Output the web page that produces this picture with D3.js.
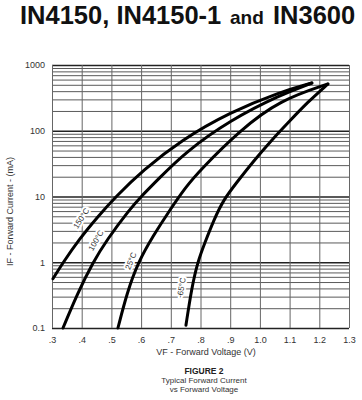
<!DOCTYPE html>
<html>
<head>
<meta charset="utf-8">
<script src="https://cdn.jsdelivr.net/npm/d3@7"></script>
<style>
  body { margin: 0; background: #fff; }
  svg { display: block; font-family: "Liberation Sans", Arial, sans-serif; }
</style>
</head>
<body>
<div id="chart"></div>
<script>
// Forward voltage (V) vs forward current (mA)
const curve150 = [[0.303, 0.56], [0.338, 1], [0.39, 2.2], [0.455, 5], [0.515, 10], [0.606, 25],
  [0.735, 72], [0.9, 192], [1.068, 388], [1.175, 532]];
const curve100 = [[0.337, 0.1], [0.385, 0.33], [0.438, 1], [0.485, 2.2], [0.56, 6.25], [0.6, 10],
  [0.655, 17.8], [0.748, 47], [0.9, 145], [1.068, 350], [1.175, 532]];
const curve25 = [[0.522, 0.1], [0.553, 0.35], [0.59, 1], [0.64, 2.5], [0.697, 6.25], [0.75, 13.9],
  [0.798, 25], [0.933, 102], [1.068, 293], [1.229, 514]];
const curveM65 = [[0.751, 0.11], [0.77, 0.4], [0.79, 1], [0.815, 2], [0.845, 4.4], [0.877, 8.9],
  [0.925, 17], [0.975, 33], [1.037, 70], [1.1, 140], [1.16, 270], [1.229, 514]];

const curves = [curve150, curve100, curve25, curveM65];
const tempLabels = ["150°C", "100°C", "25°C", "-65°C"];
// where each label sits (V, mA) and its slant
const labelAt = [[0.398, 4.66], [0.448, 2.15], [0.565, 1.05], [0.735, 0.41]];
const labelAngle = [-57, -60, -68, -80];

const voltTicks = [0.3, 0.4, 0.5, 0.6, 0.7, 0.8, 0.9, 1.0, 1.1, 1.2, 1.3];
const voltLabels = [".3", ".4", ".5", ".6", ".7", ".8", ".9", "1.0", "1.1", "1.2", "1.3"];
const currentTicks = [0.1, 1, 10, 100, 1000];
const currentLabels = ["0.1", "1", "10", "100", "1000"];

const width = 362, height = 400;
const plotLeft = 52, plotRight = 349, plotTop = 65, plotBottom = 328;

const svg = d3.select("#chart").append("svg")
  .attr("width", width)
  .attr("height", height);

const x = d3.scaleLinear().domain([0.3, 1.3]).range([plotLeft, plotRight]);
const y = d3.scaleLog().domain([0.1, 1000]).range([plotBottom, plotTop]);

// minor log grid values 2..9 in every decade
const minorTicks = [];
currentTicks.slice(0, -1).forEach(d => {
  for (let k = 2; k <= 9; k++) minorTicks.push(d * k);
});

// horizontal grid
svg.append("g")
  .attr("transform", `translate(${plotLeft},0)`)
  .call(d3.axisLeft(y).tickValues(minorTicks).tickSize(-(plotRight - plotLeft)).tickFormat(""))
  .call(g => g.select(".domain").remove())
  .call(g => g.selectAll("line").attr("stroke", "#5a5a5a").attr("stroke-width", 1));

svg.append("g")
  .attr("transform", `translate(${plotLeft},0)`)
  .call(d3.axisLeft(y).tickValues(currentTicks).tickSize(-(plotRight - plotLeft)).tickFormat(""))
  .call(g => g.select(".domain").remove())
  .call(g => g.selectAll("line").attr("stroke", "#222").attr("stroke-width", 1.3));

// vertical grid
svg.append("g")
  .attr("transform", `translate(0,${plotBottom})`)
  .call(d3.axisBottom(x).tickValues(voltTicks).tickSize(-(plotBottom - plotTop)).tickFormat(""))
  .call(g => g.select(".domain").remove())
  .call(g => g.selectAll("line").attr("stroke", "#666").attr("stroke-width", 1));

// tick labels
svg.append("g")
  .attr("transform", `translate(${plotLeft - 4},0)`)
  .call(d3.axisLeft(y).tickValues(currentTicks).tickSize(0).tickFormat((d, i) => currentLabels[i]))
  .call(g => g.select(".domain").remove())
  .call(g => g.selectAll("text").attr("fill", "#333").style("font-size", "9px")
    .style("font-family", "'Liberation Sans', Arial, sans-serif"));

svg.append("g")
  .attr("transform", `translate(0,${plotBottom + 6})`)
  .call(d3.axisBottom(x).tickValues(voltTicks).tickSize(0).tickFormat((d, i) => voltLabels[i]))
  .call(g => g.select(".domain").remove())
  .call(g => g.selectAll("text").attr("fill", "#333").style("font-size", "9px")
    .style("font-family", "'Liberation Sans', Arial, sans-serif"));

// temperature labels with a white halo over the grid (curves drawn on top)
svg.selectAll("text.temp")
  .data(tempLabels)
  .enter()
  .append("text")
  .attr("class", "temp")
  .attr("transform", (d, i) => `translate(${x(labelAt[i][0])},${y(labelAt[i][1])}) rotate(${labelAngle[i]})`)
  .attr("text-anchor", "middle")
  .attr("dy", "0.35em")
  .attr("fill", "#333")
  .attr("stroke", "#fff")
  .attr("stroke-width", 4)
  .attr("paint-order", "stroke")
  .style("font-size", "8px")
  .text(d => d);

// curves
const line = d3.line()
  .x(d => x(d[0]))
  .y(d => y(d[1]))
  .curve(d3.curveBasis);

svg.selectAll("path.curve")
  .data(curves)
  .enter()
  .append("path")
  .attr("class", "curve")
  .attr("d", line)
  .attr("fill", "none")
  .attr("stroke", "#000")
  .attr("stroke-width", 3)
  .attr("stroke-linecap", "round");

// axis titles
svg.append("text")
  .attr("transform", `translate(13,${(plotTop + plotBottom) / 2 + 15}) rotate(-90)`)
  .attr("text-anchor", "middle")
  .attr("fill", "#333")
  .style("font-size", "9px")
  .text("IF - Forward Current - (mA)");

svg.append("text")
  .attr("x", 206)
  .attr("y", 355)
  .attr("text-anchor", "middle")
  .attr("fill", "#333")
  .style("font-size", "9px")
  .text("VF - Forward Voltage (V)");

// figure caption
svg.append("text")
  .attr("x", 204).attr("y", 374)
  .attr("text-anchor", "middle")
  .attr("fill", "#222")
  .style("font-size", "8.5px")
  .style("font-weight", "bold")
  .text("FIGURE 2");

svg.append("text")
  .attr("x", 204).attr("y", 383)
  .attr("text-anchor", "middle")
  .attr("fill", "#333")
  .style("font-size", "8px")
  .text("Typical Forward Current");

svg.append("text")
  .attr("x", 204).attr("y", 392)
  .attr("text-anchor", "middle")
  .attr("fill", "#333")
  .style("font-size", "8px")
  .text("vs Forward Voltage");

// heading
const title = svg.append("text")
  .attr("y", 24)
  .attr("fill", "#111")
  .style("font-weight", "bold");
title.append("tspan").attr("x", 20).style("font-size", "25.5px").text("IN4150, IN4150-1");
title.append("tspan").attr("x", 230).style("font-size", "19px").text("and");
title.append("tspan").attr("x", 273).style("font-size", "25.5px").text("IN3600");
</script>
</body>
</html>
